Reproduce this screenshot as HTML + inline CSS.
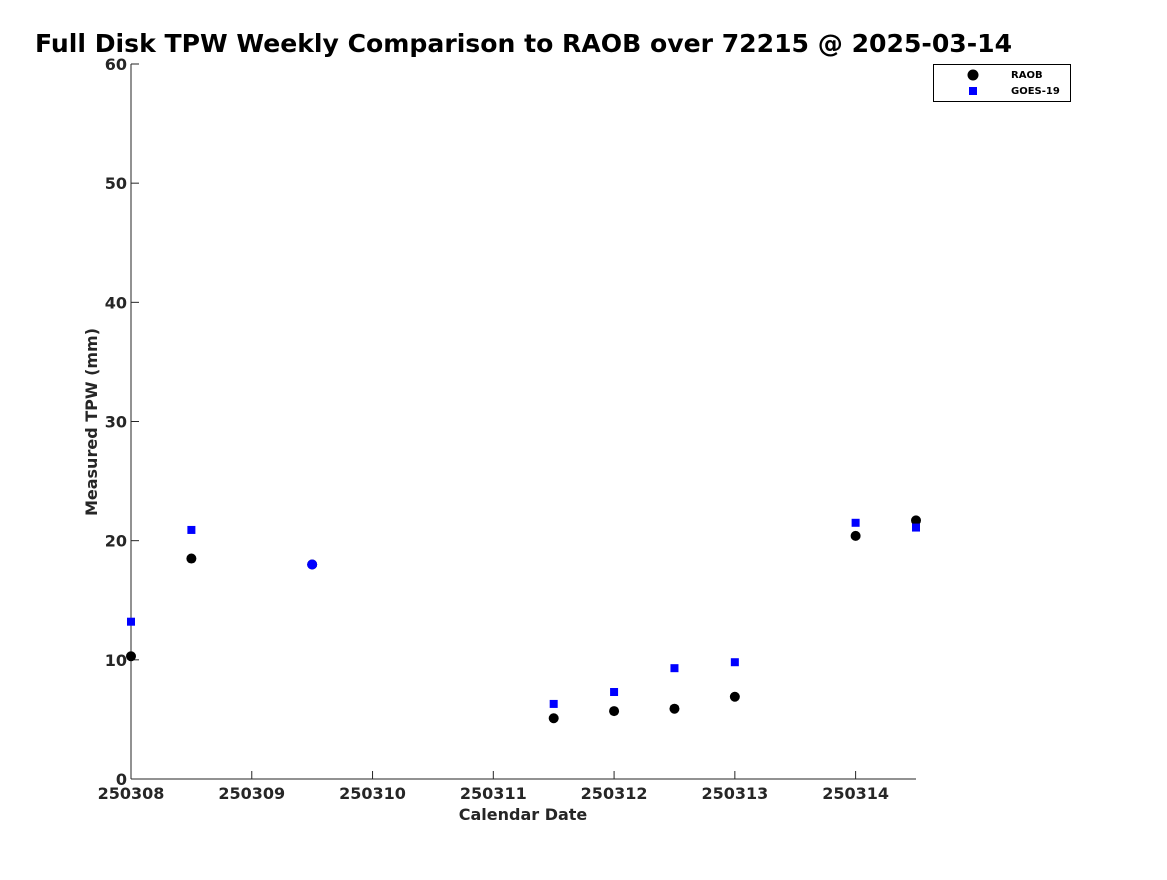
<!DOCTYPE html>
<html><head><meta charset="utf-8"><style>
body{margin:0;background:#fff;}
svg{font-family:"DejaVu Sans","Liberation Sans",sans-serif;font-weight:bold;}
</style></head><body>
<svg id="c" width="1167" height="875">
<text x="35" y="52" font-size="25.1" fill="#000">Full Disk TPW Weekly Comparison to RAOB over 72215 @ 2025-03-14</text>
<g id="axes"></g>
<g id="marks"></g>
<g>
<rect x="933.5" y="64.5" width="137" height="37" fill="#fff" stroke="#000"/>
<circle cx="973" cy="75" r="5.5" fill="#000"/>
<text x="1011" y="78" font-size="10">RAOB</text>
<rect x="969" y="87" width="8" height="8" fill="#0000ff"/>
<text x="1011" y="94" font-size="10">GOES-19</text>
</g>
<text x="523" y="820" font-size="16" fill="#262626" text-anchor="middle">Calendar Date</text>
<text transform="translate(97,422) rotate(-90)" font-size="16" fill="#262626" text-anchor="middle">Measured TPW (mm)</text>
</svg>
<script>
const days=[0,0.5,1.5,3.5,4,4.5,5,6,6.5];
const raob=[10.3,18.5,18.0,5.1,5.7,5.9,6.9,20.4,21.7];
const goes=[13.2,20.9,18.0,6.3,7.3,9.3,9.8,21.5,21.1];
const xTicks=[0,1,2,3,4,5,6];
const xTickLabels=["250308","250309","250310","250311","250312","250313","250314"];
const yTicks=[0,10,20,30,40,50,60];
const NS="http://www.w3.org/2000/svg";
const X0=131,X1=916,Y0=779,Y1=64;
const xs=d=>X0+d/6.5*(X1-X0);
const ys=v=>Y0-v/60*(Y0-Y1);
function mk(t,a,p){const e=document.createElementNS(NS,t);for(const k in a)e.setAttribute(k,a[k]);p.appendChild(e);return e;}
const ax=document.getElementById('axes'),mg=document.getElementById('marks');
let l=mk('line',{x1:X0,y1:Y1,x2:X0,y2:Y0,stroke:'#262626','stroke-width':1},ax);


l=mk('line',{x1:X0,y1:Y0,x2:X1,y2:Y0,stroke:'#262626','stroke-width':1},ax);


yTicks.forEach(v=>{const y=ys(v);
 const t=mk('line',{x1:X0,y1:y,x2:X0+8,y2:y,stroke:'#262626'},ax);
 
 
 const tx=mk('text',{x:X0-4,y:y+6,'font-size':16,fill:'#262626','text-anchor':'end'},ax);tx.textContent=v;
 
 });
xTicks.forEach((d,i)=>{const x=xs(d);
 const t=mk('line',{x1:x,y1:Y0,x2:x,y2:Y0-8,stroke:'#262626'},ax);
 
 
 const tx=mk('text',{x:x,y:Y0+20,'font-size':16,fill:'#262626','text-anchor':'middle'},ax);tx.textContent=xTickLabels[i];
 
 });
days.forEach((d,i)=>{
 const c=mk('circle',{cx:xs(d),cy:ys(raob[i]),r:5,fill:'#000'},mg);
 
 
 if(Math.abs(raob[i]-goes[i])<0.05){
  const b=mk('circle',{cx:xs(d),cy:ys(goes[i]),r:5,fill:'#0000ff'},mg);
  
  
 } else {
  const s=mk('rect',{x:xs(d)-4,y:ys(goes[i])-4,width:8,height:8,fill:'#0000ff'},mg);
  
  
 }
});
</script>
</body></html>
